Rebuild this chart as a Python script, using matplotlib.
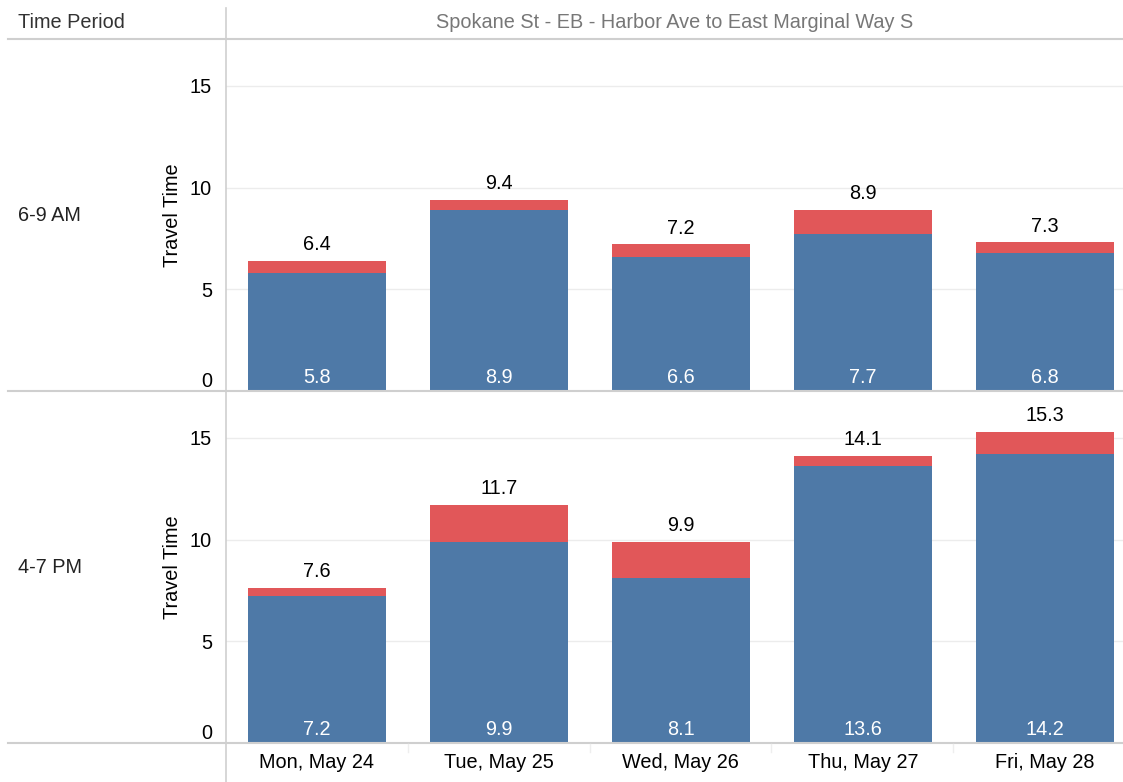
import matplotlib
matplotlib.use("Agg")
import matplotlib.pyplot as plt
from matplotlib.lines import Line2D

plt.rcParams['font.family'] = ['Liberation Sans', 'DejaVu Sans']

days = ["Mon, May 24", "Tue, May 25", "Wed, May 26", "Thu, May 27", "Fri, May 28"]
periods = ["6-9 AM", "4-7 PM"]
am_base = [5.8, 8.9, 6.6, 7.7, 6.8]
am_total = [6.4, 9.4, 7.2, 8.9, 7.3]
pm_base = [7.2, 9.9, 8.1, 13.6, 14.2]
pm_total = [7.6, 11.7, 9.9, 14.1, 15.3]
title = "Spokane St - EB - Harbor Ave to East Marginal Way S"

BLUE = "#4e79a7"
RED = "#e15759"
FS = 14.3
W, H = 1123, 782
fig = plt.figure(figsize=(W / 100, H / 100), dpi=100)

def fx(px):
    return px / W

def fy(py):
    return 1 - py / H

panels = [(am_base, am_total, 40, 391), (pm_base, pm_total, 392, 743)]
x = list(range(len(days)))
for i, (base, total, ytop, ybot) in enumerate(panels):
    ax = fig.add_axes([fx(226), fy(ybot), 1 - fx(226), (ybot - ytop) / H])
    red = [t - b for t, b in zip(total, base)]
    ax.bar(x, base, width=0.76, color=BLUE, zorder=2)
    ax.bar(x, red, bottom=base, width=0.76, color=RED, zorder=2)
    for xi, b, t in zip(x, base, total):
        ax.annotate(f"{b:.1f}", (xi, 0), xytext=(0, 3), textcoords="offset points",
                    ha="center", va="bottom", color="white", fontsize=FS)
        ax.annotate(f"{t:.1f}", (xi, t), xytext=(0, 5), textcoords="offset points",
                    ha="center", va="bottom", color="black", fontsize=FS)
    ax.set_xlim(-0.5, 4.43)
    ax.set_ylim(0, 17.25)
    ax.set_yticks([0, 5, 10, 15])
    ax.set_yticklabels(["0", "5", "10", "15"])
    ax.get_yticklabels()[0].set_verticalalignment("bottom")
    ax.tick_params(axis="y", length=0, pad=10, labelsize=FS)
    ax.tick_params(axis="x", length=0, labelsize=FS, pad=7)
    ax.grid(axis="y", color="#ececec", linewidth=1, zorder=0)
    for s in ax.spines.values():
        s.set_visible(False)
    ax.set_ylabel("Travel Time", fontsize=FS, labelpad=6)
    if i == 0:
        ax.set_xticks([])
    else:
        ax.set_xticks(x)
        ax.set_xticklabels(days)
    fig.text(fx(18), fy((ytop + ybot) / 2), periods[i], fontsize=FS,
             ha="left", va="center", color="#222222")

# structural lines
lc = "#cfcfcf"
fig.add_artist(Line2D([fx(226), fx(226)], [fy(8), 0], color=lc, lw=1.2))
for yy in (39, 391, 743):
    fig.add_artist(Line2D([fx(8), 1], [fy(yy), fy(yy)], color=lc, lw=1.5))
for xx in (408, 590, 771, 953):
    fig.add_artist(Line2D([fx(xx), fx(xx)], [fy(744), fy(752)], color="#eeeeee", lw=1))

fig.text(fx(18), fy(22), "Time Period", fontsize=FS, ha="left", va="center", color="#333333")
fig.text(fx(675), fy(22), title, fontsize=FS, ha="center", va="center", color="#777777")

fig.savefig("out.png", dpi=100)
